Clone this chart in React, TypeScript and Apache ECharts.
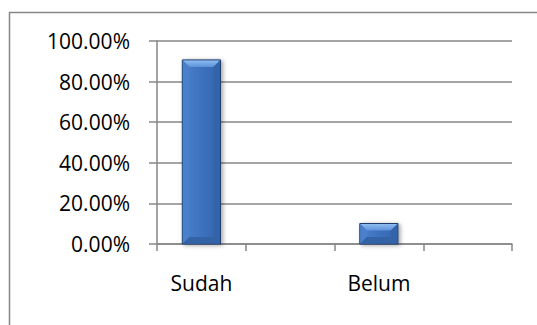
import React, { useEffect, useRef } from "react";
import * as echarts from "echarts";

// Category slots on the x axis (the blank slots keep the spacing between bars)
const categories = ["Sudah", "", "Belum", ""];
// Percentage per category; null where a slot has no bar
const percentages: (number | null)[] = [90.7, null, 10.1, null];
// Value axis ticks
const yMin = 0;
const yMax = 100;
const yStep = 20;

const FONT = "'Open Sans', 'Liberation Sans', sans-serif";

export default function App() {
  const ref = useRef<HTMLDivElement>(null);

  useEffect(() => {
    if (!ref.current) return;
    const chart = echarts.init(ref.current, undefined, { renderer: "svg" });

    const barData = percentages
      .map((v, i) => (v == null ? null : [i, v]))
      .filter((d): d is number[] => d !== null);

    const renderBevelBar = (params: any, api: any) => {
      const idx = api.value(0);
      const val = api.value(1);
      const top = api.coord([idx, val]);
      const base = api.coord([idx, 0]);
      const band = api.size([1, 0])[0];
      const w = band * 0.43;
      const l = top[0] - w / 2;
      const r = l + w;
      const t = top[1];
      const b = base[1];
      const h = b - t;
      const bev = Math.min(7, h / 2);

      return {
        type: "group",
        children: [
          {
            type: "rect",
            shape: { x: l, y: t, width: w, height: h },
            style: {
              fill: new echarts.graphic.LinearGradient(0, 0, 1, 0, [
                { offset: 0, color: "#4b82cc" },
                { offset: 0.5, color: "#3d71bd" },
                { offset: 1, color: "#3565ad" },
              ]),
              stroke: "#1f3e6c",
              lineWidth: 1,
              shadowBlur: 4,
              shadowOffsetX: 2,
              shadowOffsetY: 1,
              shadowColor: "rgba(0,0,0,0.35)",
            },
          },
          {
            // top bevel
            type: "polygon",
            shape: {
              points: [
                [l + 0.5, t + 0.5],
                [r - 0.5, t + 0.5],
                [r - bev, t + bev],
                [l + bev, t + bev],
              ],
            },
            style: {
              fill: new echarts.graphic.LinearGradient(0, 0, 0, 1, [
                { offset: 0, color: "#8fbcf0" },
                { offset: 1, color: "#5d93db" },
              ]),
            },
          },
          {
            // left bevel
            type: "polygon",
            shape: {
              points: [
                [l + 0.5, t + 0.5],
                [l + bev, t + bev],
                [l + bev, b - bev],
                [l + 0.5, b - 0.5],
              ],
            },
            style: { fill: "#4880cb" },
          },
          {
            // right bevel
            type: "polygon",
            shape: {
              points: [
                [r - 0.5, t + 0.5],
                [r - bev, t + bev],
                [r - bev, b - bev],
                [r - 0.5, b - 0.5],
              ],
            },
            style: { fill: "#3363a8" },
          },
          {
            // bottom bevel
            type: "polygon",
            shape: {
              points: [
                [l + 0.5, b - 0.5],
                [r - 0.5, b - 0.5],
                [r - bev, b - bev],
                [l + bev, b - bev],
              ],
            },
            style: { fill: "#3462a6" },
          },
        ],
      };
    };

    chart.setOption({
      animation: false,
      backgroundColor: "#ffffff",
      grid: { left: 157, top: 41, right: 25, bottom: 81, containLabel: false },
      xAxis: {
        type: "category",
        data: categories,
        boundaryGap: true,
        axisLine: { show: true, lineStyle: { color: "#878787", width: 1.5 } },
        axisTick: { show: true, length: 7, alignWithLabel: false, lineStyle: { color: "#878787", width: 1.5 } },
        axisLabel: { color: "#000000", fontSize: 21, fontFamily: FONT, margin: 28, interval: 0 },
        splitLine: { show: false },
      },
      yAxis: {
        type: "value",
        min: yMin,
        max: yMax,
        interval: yStep,
        axisLine: { show: true, lineStyle: { color: "#878787", width: 1.5 } },
        axisTick: { show: true, length: 8, lineStyle: { color: "#878787", width: 1.5 } },
        axisLabel: {
          color: "#000000",
          fontSize: 21,
          fontFamily: FONT,
          margin: 27,
          formatter: (v: number) => `${v.toFixed(2)}%`,
        },
        splitLine: { show: true, lineStyle: { color: "#878787", width: 1.5 } },
      },
      series: [
        {
          type: "custom",
          renderItem: renderBevelBar,
          data: barData,
          encode: { x: 0, y: 1 },
          clip: false,
          z: 3,
        },
      ],
      graphic: [
        {
          type: "rect",
          shape: { x: 9.5, y: 12.5, width: 620, height: 400 },
          style: { fill: "none", stroke: "#878787", lineWidth: 1.5 },
          silent: true,
        },
      ],
    });

    return () => chart.dispose();
  }, []);

  return (
    <div
      ref={ref}
      style={{ position: "fixed", left: 0, top: 0, width: 537, height: 325 }}
    />
  );
}
